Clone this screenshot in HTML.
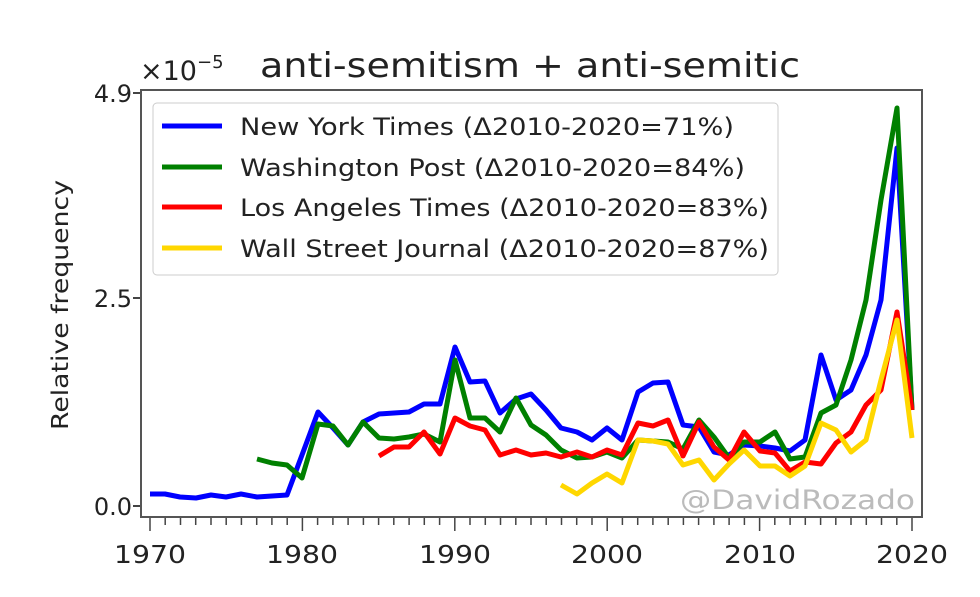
<!DOCTYPE html>
<html><head><meta charset="utf-8"><style>body{margin:0;background:#fff}</style></head><body>
<svg width="980" height="592" xmlns="http://www.w3.org/2000/svg" font-family="'DejaVu Sans','Liberation Sans',sans-serif">
<rect width="980" height="592" fill="#fff"/>
<text x="140" y="80" font-size="27" fill="#222">×10<tspan font-size="18" dy="-12">−5</tspan></text>
<text x="260" y="77" font-size="34" fill="#222" textLength="540" lengthAdjust="spacingAndGlyphs">anti-semitism + anti-semitic</text>
<text transform="translate(68,305) rotate(-90)" text-anchor="middle" font-size="23" fill="#222" textLength="250" lengthAdjust="spacingAndGlyphs">Relative frequency</text>
<g font-size="24" fill="#222" text-anchor="end">
<text x="132" y="102">4.9</text><text x="132" y="307">2.5</text><text x="132" y="515">0.0</text></g>
<g stroke="#444" stroke-width="2">
<line x1="133" y1="93" x2="141" y2="93"/><line x1="133" y1="298" x2="141" y2="298"/><line x1="133" y1="506" x2="141" y2="506"/>
</g>
<g stroke="#444" stroke-width="1.5">
<line x1="150" y1="518" x2="150" y2="531"/><line x1="165.2" y1="518" x2="165.2" y2="525"/><line x1="180.5" y1="518" x2="180.5" y2="525"/><line x1="195.7" y1="518" x2="195.7" y2="525"/><line x1="211" y1="518" x2="211" y2="525"/><line x1="226.2" y1="518" x2="226.2" y2="525"/><line x1="241.4" y1="518" x2="241.4" y2="525"/><line x1="256.7" y1="518" x2="256.7" y2="525"/><line x1="271.9" y1="518" x2="271.9" y2="525"/><line x1="287.2" y1="518" x2="287.2" y2="525"/>
<line x1="302.4" y1="518" x2="302.4" y2="531"/><line x1="317.6" y1="518" x2="317.6" y2="525"/><line x1="332.9" y1="518" x2="332.9" y2="525"/><line x1="348.1" y1="518" x2="348.1" y2="525"/><line x1="363.4" y1="518" x2="363.4" y2="525"/><line x1="378.6" y1="518" x2="378.6" y2="525"/><line x1="393.8" y1="518" x2="393.8" y2="525"/><line x1="409.1" y1="518" x2="409.1" y2="525"/><line x1="424.3" y1="518" x2="424.3" y2="525"/><line x1="439.6" y1="518" x2="439.6" y2="525"/>
<line x1="454.8" y1="518" x2="454.8" y2="531"/><line x1="470" y1="518" x2="470" y2="525"/><line x1="485.3" y1="518" x2="485.3" y2="525"/><line x1="500.5" y1="518" x2="500.5" y2="525"/><line x1="515.8" y1="518" x2="515.8" y2="525"/><line x1="531" y1="518" x2="531" y2="525"/><line x1="546.2" y1="518" x2="546.2" y2="525"/><line x1="561.5" y1="518" x2="561.5" y2="525"/><line x1="576.7" y1="518" x2="576.7" y2="525"/><line x1="592" y1="518" x2="592" y2="525"/>
<line x1="607.2" y1="518" x2="607.2" y2="531"/><line x1="622.4" y1="518" x2="622.4" y2="525"/><line x1="637.7" y1="518" x2="637.7" y2="525"/><line x1="652.9" y1="518" x2="652.9" y2="525"/><line x1="668.2" y1="518" x2="668.2" y2="525"/><line x1="683.4" y1="518" x2="683.4" y2="525"/><line x1="698.6" y1="518" x2="698.6" y2="525"/><line x1="713.9" y1="518" x2="713.9" y2="525"/><line x1="729.1" y1="518" x2="729.1" y2="525"/><line x1="744.4" y1="518" x2="744.4" y2="525"/>
<line x1="759.6" y1="518" x2="759.6" y2="531"/><line x1="774.8" y1="518" x2="774.8" y2="525"/><line x1="790.1" y1="518" x2="790.1" y2="525"/><line x1="805.3" y1="518" x2="805.3" y2="525"/><line x1="820.6" y1="518" x2="820.6" y2="525"/><line x1="835.8" y1="518" x2="835.8" y2="525"/><line x1="851" y1="518" x2="851" y2="525"/><line x1="866.3" y1="518" x2="866.3" y2="525"/><line x1="881.5" y1="518" x2="881.5" y2="525"/><line x1="896.8" y1="518" x2="896.8" y2="525"/>
<line x1="912" y1="518" x2="912" y2="531"/>
</g>
<g font-size="25" fill="#222" text-anchor="middle">
<text x="150" y="563" textLength="72" lengthAdjust="spacingAndGlyphs">1970</text><text x="302" y="563" textLength="72" lengthAdjust="spacingAndGlyphs">1980</text><text x="455" y="563" textLength="72" lengthAdjust="spacingAndGlyphs">1990</text><text x="607" y="563" textLength="72" lengthAdjust="spacingAndGlyphs">2000</text><text x="760" y="563" textLength="72" lengthAdjust="spacingAndGlyphs">2010</text><text x="912" y="563" textLength="72" lengthAdjust="spacingAndGlyphs">2020</text></g>
<text x="680" y="509" font-size="27" fill="#bbb" textLength="235" lengthAdjust="spacingAndGlyphs">@DavidRozado</text>
<g fill="none" stroke-width="5" stroke-linejoin="round">
<polyline stroke="#0000ff" points="150,494 165,494 180,497 196,498 211,495 226,497 241,494 257,497 272,496 287,495 302,455 318,412 333,428 348,445 363,422 379,414 394,413 409,412 424,404 440,404 455,347 470,382 485,381 500,413 516,399 531,394 546,410 561,428 577,432 592,440 607,428 622,440 638,392 653,383 668,382 683,425 699,427 714,452 729,455 744,445 760,446 775,448 790,451 805,440 821,355 836,400 851,390 866,355 881,300 897,148 912,410"/>
<polyline stroke="#008000" points="257,459 272,463 287,465 302,478 318,424 333,426 348,445 363,422 379,438 394,439 409,437 424,434 440,442 455,360 470,418 485,418 500,432 516,398 531,425 546,435 561,450 577,458 592,457 607,452 622,458 638,440 653,441 668,442 683,449 699,420 714,437 729,458 744,442 760,442 775,432 790,459 805,457 821,413 836,405 851,360 866,300 881,200 897,108 912,410"/>
<polyline stroke="#ff0000" points="379,456 394,447 409,447 424,432 440,454 455,418 470,426 485,430 500,455 516,450 531,455 546,453 561,457 577,452 592,457 607,450 622,455 638,423 653,426 668,420 683,456 699,422 714,447 729,460 744,432 760,451 775,453 790,471 805,462 821,464 836,443 851,432 866,405 881,390 897,312 912,410"/>
<polyline stroke="#ffd700" points="561,485 577,494 592,483 607,474 622,483 638,440 653,441 668,444 683,465 699,460 714,480 729,464 744,450 760,466 775,466 790,476 805,466 821,423 836,430 851,452 866,440 881,380 897,320 912,438"/>
</g>
<g stroke="#555" stroke-width="2" fill="none"><rect x="141" y="90" width="781" height="427"/></g>
<rect x="153" y="103" width="625" height="172" rx="4" fill="#fff" fill-opacity="0.85" stroke="#ccc"/>
<g stroke-width="5"><line x1="162" y1="126" x2="222" y2="126" stroke="#0000ff"/><line x1="162" y1="167" x2="222" y2="167" stroke="#008000"/><line x1="162" y1="207" x2="222" y2="207" stroke="#ff0000"/><line x1="162" y1="248" x2="222" y2="248" stroke="#ffd700"/></g>
<g font-size="24" fill="#222" lengthAdjust="spacingAndGlyphs">
<text x="240" y="135" textLength="494" lengthAdjust="spacingAndGlyphs">New York Times (Δ2010-2020=71%)</text>
<text x="240" y="176" textLength="505" lengthAdjust="spacingAndGlyphs">Washington Post (Δ2010-2020=84%)</text>
<text x="240" y="216" textLength="529" lengthAdjust="spacingAndGlyphs">Los Angeles Times (Δ2010-2020=83%)</text>
<text x="240" y="257" textLength="529" lengthAdjust="spacingAndGlyphs">Wall Street Journal (Δ2010-2020=87%)</text></g>
</svg>
</body></html>
